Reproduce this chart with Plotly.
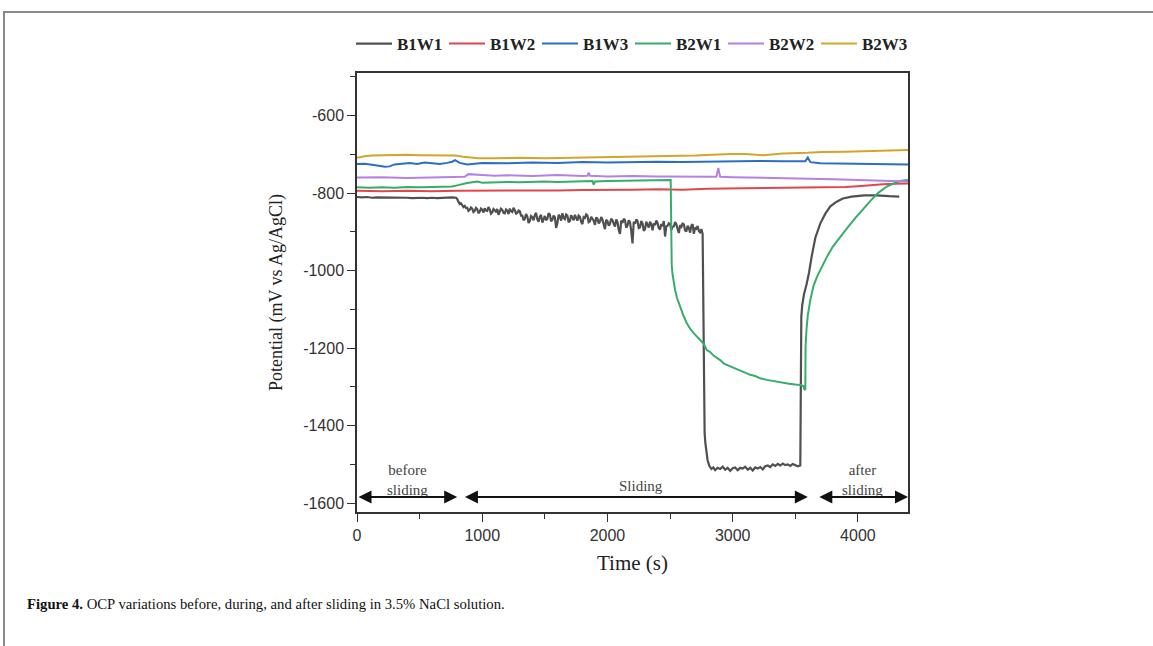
import plotly.graph_objects as go

# ---------------- data ----------------
series_names = ["B1W1", "B1W2", "B1W3", "B2W1", "B2W2", "B2W3"]
series_colors = ["#505050", "#e0474c", "#2a6fc4", "#36ad6a", "#b582e3", "#d3a52a"]

b1w1_t = [0, 40, 80, 120, 160, 200, 240, 280, 320, 360, 400, 440, 480, 520, 560, 600, 640, 680, 720, 760, 790,
          800, 810, 820, 830, 840, 850, 860, 870,
          880, 890, 900, 910, 920, 930, 940, 950, 960, 970, 980, 990, 1000, 1010, 1020, 1030, 1040, 1050, 1060,
          1070, 1080, 1090, 1100, 1110, 1120, 1130, 1140, 1150, 1160, 1170, 1180, 1190, 1200, 1210, 1220, 1230,
          1240, 1250, 1260, 1270, 1280, 1290, 1300, 1310, 1320, 1330, 1340, 1350, 1360, 1370, 1380, 1390, 1400,
          1410, 1420, 1430, 1440, 1450, 1460, 1470, 1480, 1490, 1500, 1510, 1520, 1530, 1540, 1550, 1560, 1570,
          1580, 1590, 1600, 1610, 1620, 1630, 1640, 1650, 1660, 1670, 1680, 1690, 1700, 1710, 1720, 1730, 1740,
          1750, 1760, 1770, 1780, 1790, 1800, 1810, 1820, 1830, 1840, 1850, 1860, 1870, 1880, 1890, 1900, 1910,
          1920, 1930, 1940, 1950, 1960, 1970, 1980, 1990, 2000, 2010, 2020, 2030, 2040, 2050, 2060, 2070, 2080,
          2090, 2100, 2110, 2120, 2130, 2140, 2150, 2160, 2170, 2180, 2190, 2200, 2210, 2220, 2230, 2240, 2250,
          2260, 2270, 2280, 2290, 2300, 2310, 2320, 2330, 2340, 2350, 2360, 2370, 2380, 2390, 2400, 2410, 2420,
          2430, 2440, 2450, 2460, 2470, 2480, 2490, 2500, 2510, 2520, 2530, 2540, 2550, 2560, 2570, 2580, 2590,
          2600, 2610, 2620, 2630, 2640, 2650, 2660, 2670, 2680, 2690, 2700, 2710, 2720, 2730, 2740, 2750, 2760,
          2768, 2772, 2776, 2782, 2790, 2800, 2815, 2830, 2845,
          2860, 2880, 2900, 2920, 2940, 2960, 2980, 3000, 3020, 3040, 3060, 3080, 3100, 3120, 3140, 3160, 3180,
          3200, 3220, 3240, 3260, 3280, 3300, 3320, 3340, 3360, 3380, 3400, 3420, 3440, 3460, 3480, 3500, 3520,
          3540, 3546,
          3548, 3555, 3570, 3590, 3610, 3630, 3660, 3700, 3740, 3780, 3830, 3880, 3950, 4050, 4150, 4250, 4330, 4400]
b1w1_v = [-810, -811, -810, -812, -811, -811, -812, -811, -812, -811, -812, -813, -812, -812, -813, -812, -813, -812, -812, -811, -812,
          -815, -822, -828, -826, -832, -836, -833, -838,
          -838, -846, -843, -837, -840, -849, -846, -838, -841, -852, -848, -840, -843, -850, -839, -845, -846, -836, -842,
          -853, -850, -841, -844, -849, -841, -856, -848, -840, -843, -851, -852, -842, -845, -854, -840, -847,
          -849, -838, -844, -853, -851, -845, -847, -858, -858, -870, -866, -854, -860, -877, -872, -859, -862,
          -870, -857, -851, -868, -874, -861, -856, -876, -864, -859, -870, -866, -852, -855, -873, -869, -858,
          -862, -890, -878, -856, -860, -871, -852, -864, -867, -855, -858, -875, -872, -857, -863, -870, -856,
          -862, -871, -858, -861, -874, -880, -862, -864, -855, -858, -875, -873, -861, -865, -871, -882, -863,
          -866, -878, -874, -862, -868, -880, -893, -869, -872, -884, -879, -866, -870, -879, -886, -868, -874,
          -895, -905, -871, -877, -866, -870, -889, -884, -870, -875, -898, -930, -874, -879, -868, -872, -890,
          -888, -872, -878, -897, -893, -874, -881, -889, -874, -880, -896, -878, -883, -871, -877, -890, -894,
          -880, -885, -872, -912, -886, -884, -878, -880, -895, -887, -886, -875, -880, -892, -903, -883,
          -887, -879, -881, -896, -899, -884, -890, -902, -884, -880, -905, -889, -892, -885, -898, -901, -893,
          -905, -1150, -1380, -1420, -1445, -1470, -1490, -1505, -1512,
          -1508, -1515, -1509, -1512, -1506, -1514, -1509, -1517, -1510, -1508, -1515, -1509, -1511, -1506, -1514, -1509, -1516,
          -1508, -1511, -1507, -1513, -1505, -1503, -1507, -1500, -1504, -1499, -1503, -1498, -1502, -1500, -1504, -1499, -1502,
          -1505, -1503,
          -1140, -1120, -1090, -1060, -1035, -1005, -965, -915, -878, -853, -834, -822, -814, -809, -806, -806, -808, -809]

b1w2_t = [0, 200, 400, 600, 800, 1000, 1200, 1400, 1600, 1800, 2000, 2200, 2400, 2600, 2800, 3000, 3200, 3400,
          3600, 3800, 3900, 4000, 4100, 4200, 4300, 4400]
b1w2_v = [-794, -795, -794, -795, -794, -794, -793, -794, -793, -792, -792, -791, -790, -791, -789, -788, -788, -787,
          -786, -785, -784, -782, -779, -777, -776, -775]

b1w3_t = [0, 60, 120, 180, 224, 260, 300, 360, 420, 480, 540, 600, 660, 720, 760, 783, 820, 880, 940, 1000, 1200,
          1400, 1600, 1800, 2000, 2200, 2400, 2600, 2800, 3000, 3200, 3400, 3580, 3600, 3620, 3700, 3900, 4100,
          4300, 4400]
b1w3_v = [-725, -724, -727, -729, -732, -731, -726, -724, -722, -725, -721, -723, -725, -722, -719, -715, -722, -726,
          -724, -722, -723, -721, -722, -720, -721, -720, -719, -720, -719, -718, -717, -718, -718, -708, -720, -723,
          -724, -725, -726, -726]

b2w1_t = [0, 100, 200, 300, 400, 500, 600, 700, 760, 800, 840, 880, 920, 960, 1000, 1100, 1200, 1300, 1400, 1500,
          1600, 1700, 1800, 1880, 1890, 1900, 2000, 2100, 2200, 2300, 2400, 2500, 2505,
          2507, 2513, 2520, 2527, 2540, 2555, 2580, 2605, 2633, 2660, 2690, 2713, 2740, 2767, 2793, 2820, 2850,
          2880, 2900, 2930, 2960, 3006, 3040, 3080, 3110, 3140, 3180, 3220, 3273, 3310, 3350, 3406, 3450, 3500,
          3540, 3565, 3572, 3580,
          3582, 3590, 3600, 3620, 3645, 3673, 3710, 3753, 3800, 3860, 3920, 3980, 4043, 4100, 4160, 4230, 4300,
          4350, 4400]
b2w1_v = [-785, -786, -785, -786, -784, -785, -784, -783, -783, -780, -776, -774, -772, -770, -773, -772, -771, -772,
          -771, -770, -771, -770, -770, -769, -778, -770, -769, -768, -767, -767, -766, -766, -766,
          -940, -985, -1010, -1025, -1050, -1070, -1093, -1115, -1135, -1150, -1162, -1170, -1180, -1188, -1205,
          -1210, -1220, -1226, -1231, -1240, -1244, -1252, -1256, -1262, -1265, -1269, -1272, -1278, -1282, -1284,
          -1288, -1291, -1292, -1294, -1295, -1298, -1306, -1308,
          -1196, -1150, -1115, -1076, -1040, -1016, -990, -964, -938, -912, -888, -864, -840, -820, -800, -783,
          -773, -768, -766]

b2w2_t = [0, 200, 400, 600, 800, 860, 889, 920, 1000, 1100, 1200, 1400, 1600, 1800, 1840, 1850, 1860, 2000, 2200,
          2400, 2600, 2800, 2870, 2885, 2900, 3000, 3200, 3400, 3600, 3800, 4000, 4200, 4400]
b2w2_v = [-760, -759, -761, -760, -760, -758, -751, -752, -753, -755, -754, -756, -753, -756, -755, -747, -755, -757,
          -756, -757, -758, -758, -758, -735, -758, -759, -760, -761, -762, -764, -766, -768, -770]

b2w3_t = [0, 60, 120, 200, 300, 400, 500, 600, 700, 783, 850, 969, 1100, 1300, 1500, 1700, 1900, 2100, 2300, 2500,
          2700, 2979, 3100, 3245, 3400, 3600, 3715, 3900, 4100, 4300, 4400]
b2w3_v = [-709, -705, -703, -702, -702, -701, -702, -702, -703, -703, -706, -710, -710, -709, -710, -709, -708, -707,
          -705, -704, -703, -699, -699, -702, -698, -696, -694, -693, -692, -690, -689]

# phase annotations
phase_labels = ["before<br>sliding", "Sliding", "after<br>sliding"]
phase_label_t = [400, 2266, 4035]
phase_label_v = [-1541, -1555, -1541]
phase_start = [0, 850, 3680]
phase_end = [800, 3600, 4400]
arrow_v = -1584

x_range = [0, 4400]
y_range = [-1623, -490]
x_ticks = [0, 1000, 2000, 3000, 4000]
x_tick_labels = ["0", "1000", "2000", "3000", "4000"]
y_ticks = [-1600, -1400, -1200, -1000, -800, -600]
y_tick_labels = ["-1600", "-1400", "-1200", "-1000", "-800", "-600"]

caption_bold = "Figure 4."
caption_text = " OCP variations before, during, and after sliding in 3.5% NaCl solution."

# ---------------- figure ----------------
all_t = [b1w1_t, b1w2_t, b1w3_t, b2w1_t, b2w2_t, b2w3_t]
all_v = [b1w1_v, b1w2_v, b1w3_v, b2w1_v, b2w2_v, b2w3_v]

fig = go.Figure()
for name, col, t, v in zip(series_names, series_colors, all_t, all_v):
    fig.add_trace(go.Scatter(x=t, y=v, mode="lines", name=name,
                             line=dict(color=col, width=2.2 if name == "B1W1" else 2)))

# plot-area pixel geometry
L, R, T, B = 357, 908, 73, 512
W, H = 1153, 646
def px(xp):
    return (xp - L) / (R - L)
def py(yp):
    return (B - yp) / (B - T)

serif = "Liberation Serif, Times New Roman, serif"
sans = "Liberation Sans, Arial, sans-serif"

fig.update_layout(
    width=W, height=H,
    margin=dict(l=L, r=W - R, t=T, b=H - B, pad=0),
    paper_bgcolor="white", plot_bgcolor="white",
    showlegend=True,
    legend=dict(orientation="h", x=px(351), xanchor="left", y=py(44), yanchor="middle",
                font=dict(family=serif, size=17, color="#222", weight="bold"),
                entrywidth=42, entrywidthmode="pixels", itemwidth=36,
                bgcolor="rgba(0,0,0,0)", borderwidth=0, tracegroupgap=0),
)

axis_common = dict(showgrid=False, zeroline=False, showline=True, linecolor="#333", linewidth=1.5,
                   mirror=True, ticks="outside", ticklen=8, tickwidth=1.3, tickcolor="#333",
                   tickfont=dict(family=sans, size=16, color="#333"))
fig.update_xaxes(range=x_range, tickvals=x_ticks, ticktext=x_tick_labels, **axis_common,
                 minor=dict(dtick=500, tick0=0, ticks="outside", ticklen=5, tickwidth=1.2, tickcolor="#333"),
                 title=dict(text="Time (s)", font=dict(family=serif, size=21, color="#222"), standoff=12))
fig.update_yaxes(range=y_range, tickvals=y_ticks, ticktext=y_tick_labels, **axis_common,
                 minor=dict(dtick=100, tick0=-1600, ticks="outside", ticklen=5, tickwidth=1.2, tickcolor="#333"),
                 title=dict(text="Potential (mV vs Ag/AgCl)", font=dict(family=serif, size=18, color="#222"),
                            standoff=16))

# phase labels and double arrows
for lab, t, v in zip(phase_labels, phase_label_t, phase_label_v):
    fig.add_annotation(x=t, y=v, xref="x", yref="y", text=lab, showarrow=False,
                       font=dict(family=serif, size=15, color="#444"), align="center")
for s, e in zip(phase_start, phase_end):
    fig.add_annotation(x=e, y=arrow_v, ax=s, ay=arrow_v, xref="x", yref="y", axref="x", ayref="y",
                       text="", showarrow=True, arrowside="end+start", arrowhead=2, startarrowhead=2,
                       arrowsize=1.3, startarrowsize=1.3, arrowwidth=2, arrowcolor="#111",
                       standoff=0, startstandoff=0)

# caption
fig.add_annotation(x=px(25), y=py(604), xref="paper", yref="paper", xanchor="left", yanchor="middle",
                   text="<b>" + caption_bold + "</b>" + caption_text, showarrow=False,
                   font=dict(family=serif, size=14.7, color="#111"))

# page frame
fig.add_shape(type="path", xref="paper", yref="paper",
              path=f"M {px(4)} {py(H + 5)} L {px(4)} {py(12)} L {px(W + 5)} {py(12)}",
              line=dict(color="#8a8a8a", width=2))

fig.write_html("out.html", config={"displayModeBar": False},
               post_script="document.body.style.margin='0px';")
